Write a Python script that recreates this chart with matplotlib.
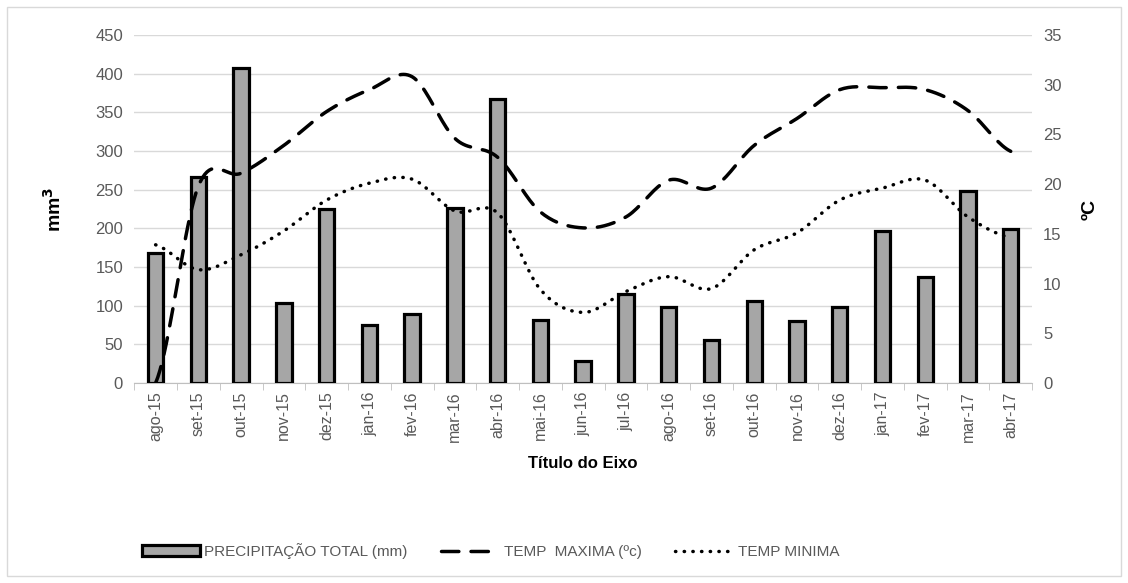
import numpy as np
import matplotlib
matplotlib.use('Agg')
import matplotlib.pyplot as plt
from matplotlib.patches import Rectangle

# ======================
# 数据
# ======================
meses = ['ago-15', 'set-15', 'out-15', 'nov-15', 'dez-15', 'jan-16', 'fev-16',
         'mar-16', 'abr-16', 'mai-16', 'jun-16', 'jul-16', 'ago-16', 'set-16',
         'out-16', 'nov-16', 'dez-16', 'jan-17', 'fev-17', 'mar-17', 'abr-17']
precipitacao = [168, 266, 407, 104, 225, 75, 89, 226, 367, 81, 29,
                115, 98, 55, 106, 80, 98, 197, 137, 248, 199]
temp_max = [0, 19.8, 21.1, 23.9, 27.3, 29.5, 30.8, 24.6, 22.7, 17.2, 15.6,
            16.7, 20.4, 19.6, 23.9, 26.6, 29.5, 29.7, 29.5, 27.4, 23.3]
temp_min = [13.9, 11.4, 12.9, 15.3, 18.4, 20.1, 20.5, 17.3, 17.1, 9.4, 7.1,
            9.2, 10.7, 9.5, 13.4, 15.1, 18.4, 19.6, 20.4, 16.7, 14.6]

plt.rcParams['font.family'] = ['Liberation Sans', 'DejaVu Sans']
cinza = '#595959'


def suavizar(x, y, n=20):
    """曲线平滑（类似Excel的平滑线）"""
    x = np.asarray(x, float)
    y = np.asarray(y, float)
    xs, ys = [], []
    for i in range(len(x) - 1):
        p0 = y[i - 1] if i > 0 else y[i]
        p3 = y[i + 2] if i + 2 < len(y) else y[i + 1]
        p1, p2 = y[i], y[i + 1]
        t = np.linspace(0, 1, n, endpoint=False)
        seg = 0.5 * ((2 * p1) + (-p0 + p2) * t
                     + (2 * p0 - 5 * p1 + 4 * p2 - p3) * t ** 2
                     + (-p0 + 3 * p1 - 3 * p2 + p3) * t ** 3)
        xs.append(x[i] + t * (x[i + 1] - x[i]))
        ys.append(seg)
    xs.append([x[-1]])
    ys.append([y[-1]])
    return np.concatenate(xs), np.concatenate(ys)


fig = plt.figure(figsize=(11.28, 5.83), dpi=100)
fig.patches.append(Rectangle((0.006, 0.012), 0.988, 0.976, transform=fig.transFigure,
                             fill=False, edgecolor='#D9D9D9', linewidth=1))
ax = fig.add_axes([0.119, 0.343, 0.796, 0.597])
ax2 = ax.twinx()

x = np.arange(len(meses))
b = ax.bar(x, precipitacao, width=0.36, color='#A6A6A6', edgecolor='black',
           linewidth=2.3, label='PRECIPITAÇÃO TOTAL (mm)', zorder=3)

xs, ys = suavizar(x, temp_max)
l1, = ax2.plot(xs, ys, color='black', linewidth=2.5, linestyle=(0, (5, 3.5)),
               dash_capstyle='round', label='TEMP  MAXIMA (ºc)')
xs, ys = suavizar(x, temp_min)
l2, = ax2.plot(xs, ys, color='black', linewidth=2.5, linestyle=(0, (0.1, 2.4)),
               dash_capstyle='round', label='TEMP MINIMA')

ax.set_xlim(-0.5, len(meses) - 0.5)
ax.set_ylim(0, 450)
ax.set_yticks(range(0, 451, 50))
ax2.set_ylim(0, 35)
ax2.set_yticks(range(0, 36, 5))

ax.yaxis.grid(True, color='#D9D9D9', linewidth=1)
ax.set_axisbelow(True)
ax.set_xticks(x)
ax.set_xticklabels(meses, rotation=90)
ax.set_xticks(np.arange(-0.5, len(meses), 1), minor=True)
ax.tick_params(axis='x', which='major', length=0, colors=cinza, labelsize=11.5, pad=6)
ax.tick_params(axis='x', which='minor', length=5, color='#BFBFBF')
ax.tick_params(axis='y', length=0, colors=cinza, labelsize=12, pad=8)
ax2.tick_params(axis='y', length=0, colors=cinza, labelsize=12, pad=8)
for a in (ax, ax2):
    for s in a.spines.values():
        s.set_visible(False)
ax.spines['bottom'].set_visible(True)
ax.spines['bottom'].set_color('#BFBFBF')

ax.set_ylabel('mm$^\\mathbf{3}$', fontsize=14, fontweight='bold', labelpad=22)
ax2.set_ylabel('ºC', fontsize=14, fontweight='bold', rotation=90, labelpad=14)
ax.set_xlabel('Título do Eixo', fontsize=12, fontweight='bold', labelpad=10)

fig.legend(handles=[b, l1, l2], loc='center', bbox_to_anchor=(0.435, 0.055), ncol=3,
           frameon=False, fontsize=11, labelcolor=cinza, handlelength=3.8,
           columnspacing=2.2, handletextpad=0.3)

plt.savefig('out.png', dpi=100)
